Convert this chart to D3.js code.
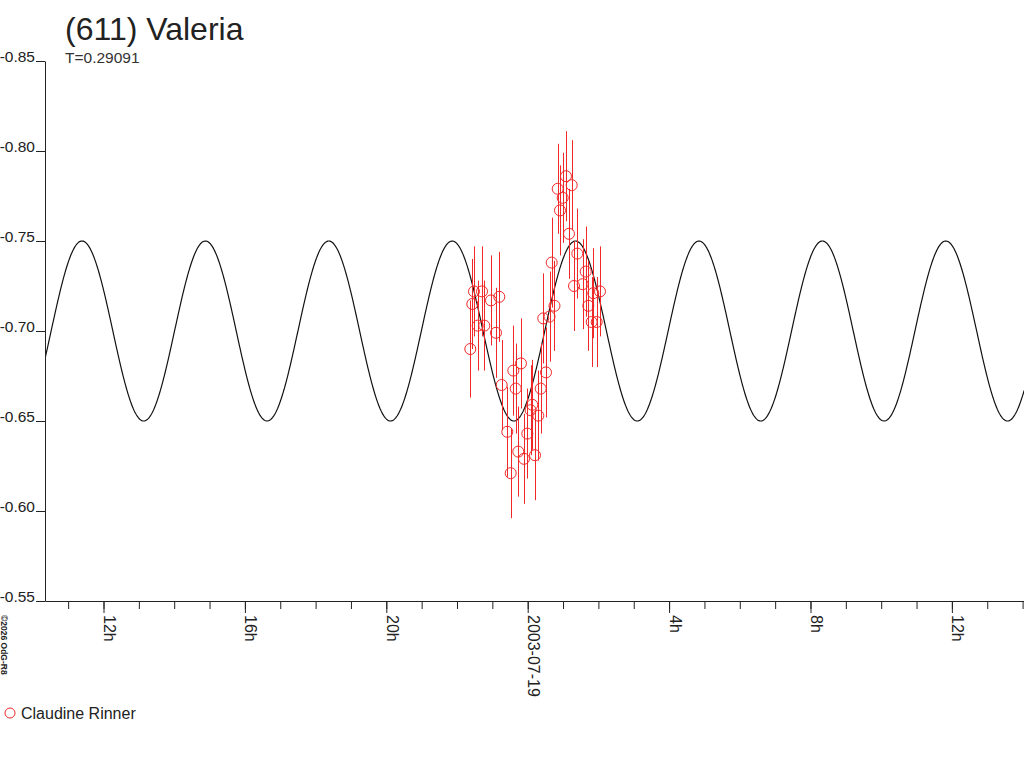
<!DOCTYPE html>
<html>
<head>
<meta charset="utf-8">
<script src="https://cdn.jsdelivr.net/npm/d3@7"></script>
<style>
  body { margin: 0; background: #fff; }
  svg { font-family: "Liberation Sans", Arial, sans-serif; }
</style>
</head>
<body>
<svg id="chart" width="1024" height="768"></svg>
<script>
// observations: hours from 2003-07-19 00:00 UT, magnitude, error
var obsHours = [-1.624, -1.567, -1.519, -1.414, -1.292, -1.228, -1.038, -0.897, -0.803, -0.736,
                -0.577, -0.481, -0.407, -0.339, -0.266, -0.190, -0.105, -0.011, 0.082, 0.130,
                 0.207, 0.300, 0.368, 0.441, 0.518, 0.617, 0.679, 0.758, 0.849, 0.914,
                 0.990, 1.083, 1.168, 1.245, 1.310, 1.403, 1.556, 1.641, 1.714, 1.810,
                 1.856, 1.952, 2.045]
var obsMag = [-0.690, -0.715, -0.722, -0.703, -0.722, -0.703, -0.717, -0.699, -0.719, -0.670,
              -0.644, -0.621, -0.678, -0.668, -0.633, -0.682, -0.629, -0.643, -0.656, -0.659,
              -0.631, -0.653, -0.668, -0.707, -0.677, -0.708, -0.738, -0.714, -0.779, -0.767,
              -0.774, -0.786, -0.754, -0.781, -0.725, -0.743, -0.726, -0.733, -0.714, -0.705,
              -0.721, -0.705, -0.722]
var obsErr = [0.027, 0.025, 0.025, 0.025, 0.025, 0.025, 0.025, 0.025, 0.025, 0.025,
              0.025, 0.025, 0.025, 0.025, 0.025, 0.025, 0.025, 0.025, 0.025, 0.025,
              0.025, 0.025, 0.025, 0.025, 0.025, 0.025, 0.025, 0.025, 0.025, 0.025,
              0.025, 0.025, 0.025, 0.025, 0.025, 0.025, 0.025, 0.025, 0.025, 0.025,
              0.025, 0.025, 0.025]

var yTicks = [-0.85, -0.80, -0.75, -0.70, -0.65, -0.60, -0.55]

// fitted model
var periodDays = 0.29091
var meanMag = -0.70
var ampMag = 0.05
var maxHour = 1.355   // a brightness maximum, hours from 2003-07-19 00:00 UT

var observer = "Claudine Rinner"
var title = "(611) Valeria"

var day0 = Date.UTC(2003, 6, 19)
var hour = 3600 * 1000
function toDate(h) { return new Date(day0 + h * hour) }

var svg = d3.select("#chart")

var x = d3.scaleUtc()
    .domain([toDate(-13.655), toDate(14.04)])
    .range([45, 1024])

var y = d3.scaleLinear()
    .domain([-0.85, -0.55])
    .range([61, 601])

// model curve
var periodHours = periodDays * 24
var curve = d3.range(-13.655, 14.05, 0.02).map(function (h) {
    return [h, meanMag - ampMag * Math.cos(4 * Math.PI * (h - maxHour) / periodHours)]
})

svg.append("clipPath").attr("id", "plot")
    .append("rect").attr("x", 45).attr("y", 0).attr("width", 979).attr("height", 601)

svg.append("path")
    .datum(curve)
    .attr("clip-path", "url(#plot)")
    .attr("fill", "none")
    .attr("stroke", "#111")
    .attr("stroke-width", 1.2)
    .attr("d", d3.line()
        .x(function (d) { return x(toDate(d[0])) })
        .y(function (d) { return y(d[1]) }))

// y axis (plain hyphen minus, like the original)
var yAxis = svg.append("g")
    .attr("transform", "translate(45,0)")
    .call(d3.axisLeft(y).tickValues(yTicks).tickSize(9).tickSizeOuter(0).tickPadding(1)
        .tickFormat(function (d) { return d.toFixed(2) }))
yAxis.selectAll("text").attr("dy", 0).attr("font-size", 15.5).attr("fill", "#222")
    .attr("font-family", "Liberation Sans, Arial, sans-serif")
yAxis.selectAll("line, path").attr("stroke", "#222")

// x axis: hourly minor ticks, 4-hourly labelled ticks
var xMinor = svg.append("g")
    .attr("transform", "translate(0,601)")
    .call(d3.axisBottom(x).ticks(d3.utcHour.every(1)).tickSize(8).tickSizeOuter(0).tickFormat(""))
xMinor.selectAll("line, path").attr("stroke", "#222")

var xMajor = svg.append("g")
    .attr("transform", "translate(0,601)")
    .call(d3.axisBottom(x).ticks(d3.utcHour.every(4)).tickSize(12).tickSizeOuter(0)
        .tickFormat(function (d) {
            return d.getUTCHours() == 0 ? d3.utcFormat("%Y-%m-%d")(d) : d.getUTCHours() + "h"
        }))
xMajor.select(".domain").remove()
xMajor.selectAll("line").attr("stroke", "#222")
xMajor.selectAll("text")
    .attr("y", 0).attr("dy", 0)
    .attr("transform", "translate(0,14) rotate(90)")
    .attr("text-anchor", "start")
    .attr("font-size", 16)
    .attr("fill", "#222")
    .attr("font-family", "Liberation Sans, Arial, sans-serif")

// observations
var obs = obsHours.map(function (h, i) { return { t: toDate(h), m: obsMag[i], e: obsErr[i] } })
var red = "#f02828"

svg.append("g").selectAll("line")
    .data(obs)
    .enter().append("line")
    .attr("x1", function (d) { return Math.round(x(d.t)) + 0.5 })
    .attr("x2", function (d) { return Math.round(x(d.t)) + 0.5 })
    .attr("y1", function (d) { return y(d.m - d.e) })
    .attr("y2", function (d) { return y(d.m + d.e) })
    .attr("stroke", red)
    .attr("stroke-width", 1)

svg.append("g").selectAll("circle")
    .data(obs)
    .enter().append("circle")
    .attr("cx", function (d) { return x(d.t) })
    .attr("cy", function (d) { return y(d.m) })
    .attr("r", 5.5)
    .attr("fill", "none")
    .attr("stroke", red)
    .attr("stroke-width", 1)

// titles
svg.append("text").attr("x", 65).attr("y", 40)
    .attr("font-size", 32).attr("fill", "#222").text(title)
svg.append("text").attr("x", 65).attr("y", 63)
    .attr("font-size", 15.5).attr("fill", "#333").text("T=" + periodDays)

// legend
svg.append("circle").attr("cx", 10).attr("cy", 713).attr("r", 5)
    .attr("fill", "none").attr("stroke", red)
svg.append("text").attr("x", 21).attr("y", 719)
    .attr("font-size", 16).attr("fill", "#222").text(observer)

// credit
svg.append("text")
    .attr("transform", "translate(1,615) rotate(90)")
    .attr("font-size", 8.5).attr("font-weight", "bold").attr("fill", "#222")
    .text("©2026 OdG-R8")
</script>
</body>
</html>
